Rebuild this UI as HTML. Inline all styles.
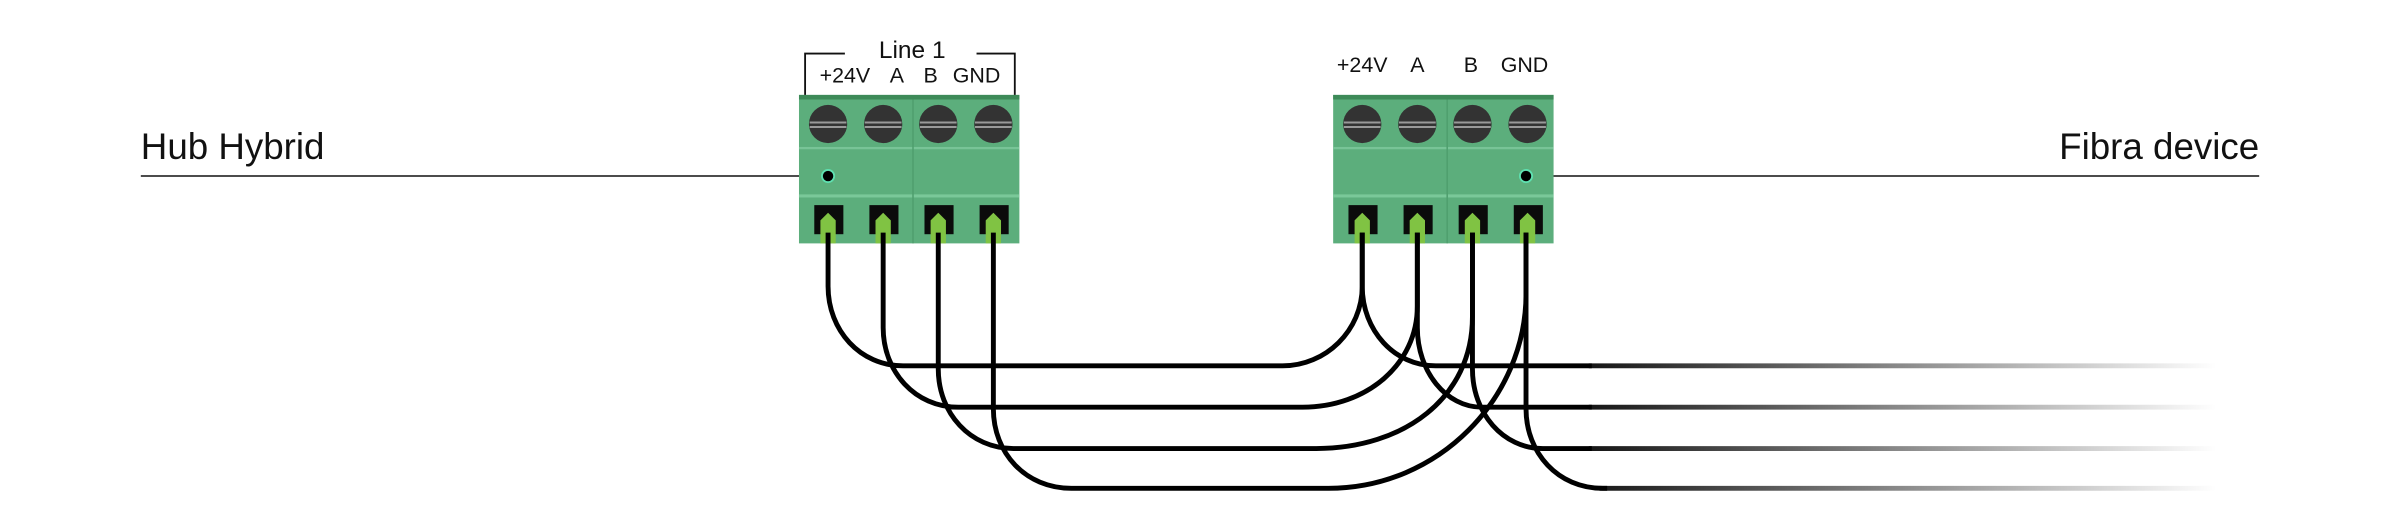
<!DOCTYPE html>
<html><head><meta charset="utf-8"><style>
html,body{margin:0;padding:0;background:#fff;}
svg{display:block;}
text{font-family:"Liberation Sans",sans-serif;fill:#111;}
</style></head><body>
<svg width="2400" height="520" viewBox="0 0 1568 339.7" preserveAspectRatio="none" xmlns="http://www.w3.org/2000/svg">
<defs>
<linearGradient id="fade" gradientUnits="userSpaceOnUse" x1="1000" y1="0" x2="1448" y2="0">
<stop offset="0" stop-color="#000" stop-opacity="1"/>
<stop offset="0.45" stop-color="#000" stop-opacity="0.55"/>
<stop offset="1" stop-color="#000" stop-opacity="0"/>
</linearGradient>
<g id="block">
<rect x="0" y="0" width="144" height="97" fill="#5cae7c"/>
<rect x="0" y="0" width="144" height="3" fill="#3d8a58"/>
<rect x="0" y="34" width="144" height="1.5" fill="#78c497"/>
<rect x="0" y="65" width="144" height="2" fill="#7ac899"/>
<rect x="74" y="3" width="1" height="94" fill="#4f9f6e"/>
<g fill="#333">
<circle cx="19" cy="19" r="12.5"/><circle cx="55" cy="19" r="12.5"/><circle cx="91" cy="19" r="12.5"/><circle cx="127" cy="19" r="12.5"/>
</g>
<g stroke="#9a9a9a" stroke-width="1.3">
<line x1="7" y1="18" x2="31" y2="18"/><line x1="7" y1="21" x2="31" y2="21"/>
<line x1="43" y1="18" x2="67" y2="18"/><line x1="43" y1="21" x2="67" y2="21"/>
<line x1="79" y1="18" x2="103" y2="18"/><line x1="79" y1="21" x2="103" y2="21"/>
<line x1="115" y1="18" x2="139" y2="18"/><line x1="115" y1="21" x2="139" y2="21"/>
</g>
<g fill="#0b0b0b">
<rect x="10" y="72" width="19" height="19"/><rect x="46" y="72" width="19" height="19"/><rect x="82" y="72" width="19" height="19"/><rect x="118" y="72" width="19" height="19"/>
</g>
<g fill="#80c343">
<path d="M14 97V82l5-5 5 5v15z"/><path d="M50 97V82l5-5 5 5v15z"/><path d="M86 97V82l5-5 5 5v15z"/><path d="M122 97V82l5-5 5 5v15z"/>
</g>
</g>
</defs>

<text x="92" y="104" font-size="24">Hub Hybrid</text>
<text x="1476" y="104" font-size="24" text-anchor="end">Fibra device</text>
<line x1="92" y1="115" x2="541" y2="115" stroke="#111" stroke-width="1"/>
<line x1="997" y1="115" x2="1476" y2="115" stroke="#111" stroke-width="1"/>

<use href="#block" x="522" y="62"/>
<use href="#block" x="871" y="62"/>
<circle cx="541" cy="115" r="4" fill="#000" stroke="#5fe0b0" stroke-width="1.2"/>
<circle cx="997" cy="115" r="4" fill="#000" stroke="#5fe0b0" stroke-width="1.2"/>

<text x="596" y="38" font-size="16" text-anchor="middle">Line 1</text>
<path d="M526 62V35h26M638 35h25v27" fill="none" stroke="#111" stroke-width="1.2"/>
<g font-size="14" text-anchor="middle">
<text x="552" y="54">+24V</text><text x="586" y="54">A</text><text x="608" y="54">B</text><text x="638" y="54">GND</text>
<text x="890" y="47">+24V</text><text x="926" y="47">A</text><text x="961" y="47">B</text><text x="996" y="47">GND</text>
</g>

<g fill="none" stroke="#000" stroke-width="3.2" stroke-linecap="butt">
<path d="M541 152V187C541 216 562 239 590 239H838C866 239 890 216 890 187V152"/>
<path d="M577 152V214C577 243 598 266 626 266H851C893 266 926 238 926 200V152"/>
<path d="M613 152V241C613 270 634 293 662 293H860C917 293 962 260 962 207V152"/>
<path d="M649 152V267C649 296 670 319 700 319H868C940 319 997 260 997 192V152"/>
</g>
<g fill="none" stroke="#000" stroke-width="3.2">
<path d="M890 152V187C890 216 911 239 938 239H1040"/>
<path d="M926 152V214C926 243 945 266 968 266H1040"/>
<path d="M962 152V241C962 270 982 293 1008 293H1040"/>
<path d="M997 152V267C997 296 1018 319 1047 319H1050"/>
</g>
<g stroke="url(#fade)" stroke-width="3.2">
<line x1="1038" y1="239" x2="1450" y2="239"/>
<line x1="1038" y1="266" x2="1450" y2="266"/>
<line x1="1038" y1="293" x2="1450" y2="293"/>
<line x1="1045" y1="319" x2="1450" y2="319"/>
</g>
</svg>
</body></html>
